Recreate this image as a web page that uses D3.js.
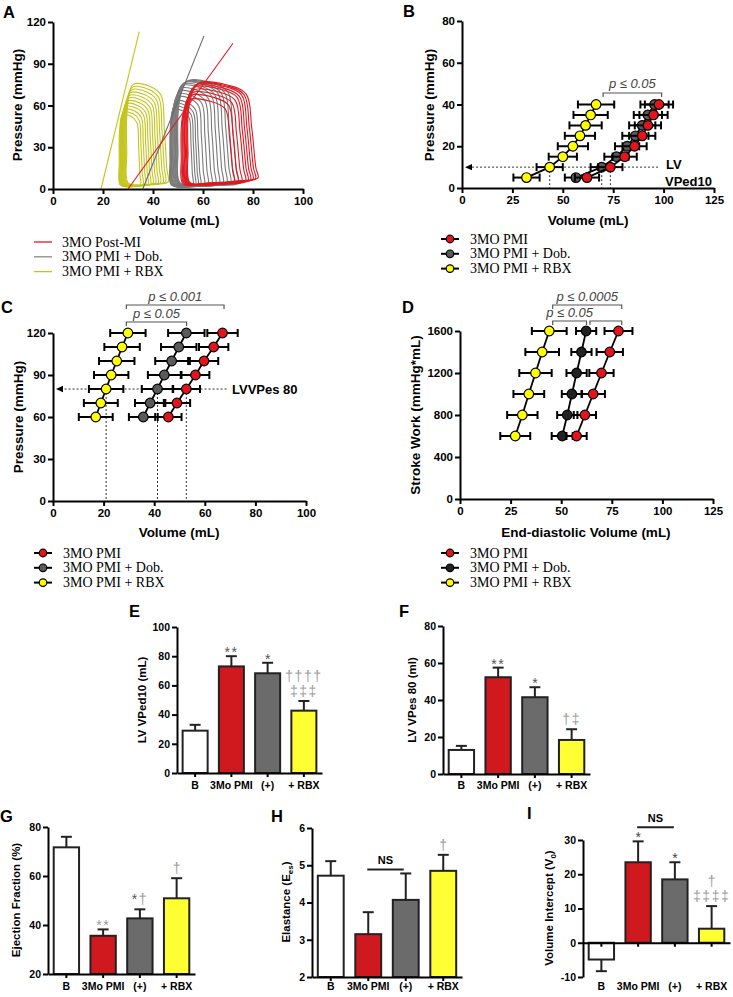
<!DOCTYPE html>
<html><head><meta charset="utf-8">
<script src="https://cdn.jsdelivr.net/npm/d3@7"></script>
<style>body{margin:0;background:#fff}</style>
</head><body><script>
// ================= DATA =================
// Panel A: PV loops (per loop: end-systolic volume, end-diastolic volume, peak pressure, end-diastolic pressure)
const pvSeries = ["3MO Post-MI", "3MO PMI + Dob.", "3MO PMI + RBX"];
const pmiLoopEsv  = [54.0, 53.7, 53.4, 53.0, 52.7, 52.4, 52.0, 51.7, 51.3];
const pmiLoopEdv  = [82.0, 81.0, 80.0, 79.0, 78.0, 77.0, 75.5, 74.0, 72.5];
const pmiLoopPtop = [76, 75.5, 75, 74, 73, 71, 69, 67, 64];
const pmiLoopEdp  = [8, 7.5, 7, 6.5, 6, 5.5, 5, 5, 4.5];
const dobLoopEsv  = [50, 49.8, 49.5, 49.2, 49, 48.7, 48.4, 48.1, 47.8, 47.6, 47.4, 47.2, 47, 46.8];
const dobLoopEdv  = [74, 72.5, 71, 69.5, 68, 66.5, 65, 63.5, 62, 60.5, 59, 58, 57, 56];
const dobLoopPtop = [77.5, 77, 76.5, 76, 75, 74, 72, 70, 68, 66, 63, 61, 59, 57];
const dobLoopEdp  = [4, 4, 4, 3.5, 3.5, 3.5, 3, 3, 3, 3, 2.5, 2.5, 2.5, 2.5];
const rbxLoopEsv  = [29.5, 29.2, 28.9, 28.6, 28.3, 28.0, 27.8, 27.5, 27.3, 27.0, 26.8, 26.5];
const rbxLoopEdv  = [46, 45, 44, 43, 42, 41, 40, 39, 38, 37, 36, 35];
const rbxLoopPtop = [75, 73, 71, 69, 67, 65, 63, 61, 59, 57, 55, 53];
const rbxLoopEdp  = [5, 5, 4.5, 4.5, 4, 4, 4, 3.5, 3.5, 3, 3, 3];
const espvrPmiV = [30, 72],    espvrPmiP = [0, 104.7];
const espvrDobV = [35.9, 60.4], espvrDobP = [0, 110];
const espvrRbxV = [19.2, 34.5], espvrRbxP = [0, 113];

// Panel B: EDPVR
const markerSeries = ["3MO PMI", "3MO PMI + Dob.", "3MO PMI + RBX"];
const edpvrP = [5, 10, 15, 20, 25, 30, 35, 40];
const edpvrPmiV   = [62, 73.6, 80.7, 85.6, 89.4, 92.2, 95, 97.7];
const edpvrPmiErr = [6, 6, 6, 6, 6.5, 6.5, 7, 7];
const edpvrDobV   = [56.5, 69.3, 76.6, 81.9, 86, 89.4, 92.2, 95.5];
const edpvrDobErr = [5.5, 5.5, 6, 6, 6.5, 6.5, 7, 7];
const edpvrRbxV   = [32, 43.5, 50, 55, 58.5, 61.3, 63.8, 66.5];
const edpvrRbxErr = [6.5, 6.5, 7, 7.5, 7.5, 8, 8.5, 9];

// Panel C: ESPVR
const espP = [60, 70, 80, 90, 100, 110, 120];
const espPmiV   = [45.6, 49, 52.7, 56.3, 59.7, 63.5, 67];
const espPmiErr = [5.2, 5.2, 5.4, 5.5, 5.6, 5.8, 6];
const espDobV   = [35.7, 38.4, 41.3, 44, 46.9, 49.7, 52.7];
const espDobErr = [5.7, 6, 6.2, 6.5, 6.5, 7, 7.2];
const espRbxV   = [16.9, 18.9, 21, 23, 25.2, 27.3, 29.6];
const espRbxErr = [6.7, 6.7, 6.8, 6.8, 7, 7, 7];

// Panel D: PRSW
const swLevels = [600, 800, 1000, 1200, 1400, 1600];
const swPmiV   = [57.6, 61.7, 65.8, 69.9, 74, 78.3];
const swPmiErr = [5, 5.5, 5.8, 6, 6.5, 6.9];
const swDobV   = [50.5, 53, 55.3, 57.6, 60, 62.3];
const swDobErr = [5.2, 5, 5, 5, 5, 5];
const swRbxV   = [27.3, 30.8, 34, 37.3, 40.6, 44.1];
const swRbxErr = [7.4, 7.5, 7.6, 8, 8.3, 8.6];

// Bar panels
const barCats = ["B", "3Mo PMI", "(+)", "+ RBX"];
const ved10 = [29, 73, 68.3, 42.7],  ved10Err = [4, 7, 7.2, 6.6];
const ved10Marks = [[], ["**"], ["*"], ["††††", "‡‡‡"]];
const ves80 = [13, 52.3, 41.5, 18.4], ves80Err = [2.2, 5.2, 5.4, 5.8];
const ves80Marks = [[], ["**"], ["*"], ["†‡"]];
const ef = [71.7, 35.6, 42.7, 50.9],  efErr = [4.3, 2.6, 3.7, 8.2];
const efMarks = [[], ["**"], ["*†"], ["†"]];
const ees = [4.72, 3.15, 4.07, 4.85], eesErr = [0.39, 0.59, 0.71, 0.43];
const eesMarks = [[], [], [], ["†"]];
const v0 = [-4.9, 23.5, 18.5, 4.1],  v0Err = [3.4, 6.1, 5, 6.6];
const v0Marks = [[], ["*"], ["*"], ["†", "‡‡‡‡"]];

// ================= DRAWING =================
const SANS = "'Liberation Sans', Arial, Helvetica, sans-serif";
const SERIF = "'Liberation Serif', 'Times New Roman', serif";
const svg = d3.select("body").append("svg").attr("width", 733).attr("height", 997)
  .style("font-family", SANS);

const C_RED = "#e3141b", C_GRAY = "#5a5a5a", C_BLACK = "#222", C_YEL = "#ffff00";
const fmt = d => String(d);

function panelLabel(t, x, y) {
  svg.append("text").attr("x", x).attr("y", y).attr("font-size", 16.5)
    .attr("font-weight", "bold").text(t);
}
function styleAxis(g, fs) {
  g.select(".domain").attr("stroke", "#000").attr("stroke-width", 2);
  g.selectAll(".tick line").attr("stroke", "#000").attr("stroke-width", 2);
  g.selectAll(".tick text").attr("font-size", fs).attr("font-weight", "bold")
    .attr("font-family", SANS).attr("fill", "#000");
}
function xyAxes(x, y, xt, yt, fs) {
  const gx = svg.append("g").attr("transform", `translate(0,${y.range()[0]})`)
    .call(d3.axisBottom(x).tickValues(xt).tickFormat(fmt).tickSize(5).tickSizeOuter(0).tickPadding(3));
  styleAxis(gx, fs);
  const gy = svg.append("g").attr("transform", `translate(${x.range()[0]},0)`)
    .call(d3.axisLeft(y).tickValues(yt).tickFormat(fmt).tickSize(5).tickSizeOuter(0).tickPadding(2));
  styleAxis(gy, fs);
}
function xTitle(t, x, y, fs) {
  svg.append("text").attr("x", x).attr("y", y).attr("text-anchor", "middle")
    .attr("font-size", fs).attr("font-weight", "bold").text(t);
}
function yTitle(x, y, fs) {
  return svg.append("text").attr("transform", `translate(${x},${y}) rotate(-90)`)
    .attr("text-anchor", "middle").attr("font-size", fs).attr("font-weight", "bold");
}

// ---------- Panel A ----------
{
  const x = d3.scaleLinear().domain([0, 100]).range([53, 303]);
  const y = d3.scaleLinear().domain([0, 120]).range([189, 22]);
  const line = d3.line().x(d => x(d[0])).y(d => y(d[1])).curve(d3.curveCatmullRomClosed.alpha(0.5));
  function loopPts(esv, edv, ptop, edp) {
    const w = edv - esv;
    return [
      [edv, edp], [edv - 0.03 * w, 0.2 * ptop], [edv - 0.09 * w, 0.58 * ptop],
      [edv - 0.17 * w, 0.9 * ptop], [esv + 0.55 * w, 0.985 * ptop], [esv + 0.15 * w, ptop],
      [esv + 0.02 * w, 0.8 * ptop], [esv, 0.35 * ptop], [esv + 0.03 * w, 0.06 * ptop],
      [esv + 0.3 * w, edp * 0.55], [edv - 0.25 * w, edp * 0.75]
    ];
  }
  const groups = [
    {esv: dobLoopEsv, edv: dobLoopEdv, p: dobLoopPtop, e: dobLoopEdp, c: "#7a7a7a"},
    {esv: rbxLoopEsv, edv: rbxLoopEdv, p: rbxLoopPtop, e: rbxLoopEdp, c: "#c3c51b"},
    {esv: pmiLoopEsv, edv: pmiLoopEdv, p: pmiLoopPtop, e: pmiLoopEdp, c: "#de1a22"}
  ];
  groups.forEach(g => {
    g.esv.forEach((v, i) => {
      svg.append("path").attr("d", line(loopPts(v, g.edv[i], g.p[i], g.e[i])))
        .attr("fill", "none").attr("stroke", g.c).attr("stroke-width", 1.1);
    });
  });
  const esp = [[espvrRbxV, espvrRbxP, "#c3c51b"], [espvrDobV, espvrDobP, "#6a6a6a"], [espvrPmiV, espvrPmiP, "#de1a22"]];
  esp.forEach(([vv, pp, c]) => {
    svg.append("line").attr("x1", x(vv[0])).attr("y1", y(pp[0])).attr("x2", x(vv[1])).attr("y2", y(pp[1]))
      .attr("stroke", c).attr("stroke-width", 1.1);
  });
  xyAxes(x, y, [0, 20, 40, 60, 80, 100], [0, 30, 60, 90, 120], 11.5);
  xTitle("Volume (mL)", 179, 225, 13.5);
  yTitle(22, 105, 13.5).text("Pressure (mmHg)");
  panelLabel("A", 3, 18);
  const lc = ["#de1a22", "#8a8a8a", "#c3c51b"];
  pvSeries.forEach((s, i) => {
    const yy = 242 + i * 14.8;
    svg.append("line").attr("x1", 34).attr("x2", 52).attr("y1", yy).attr("y2", yy)
      .attr("stroke", lc[i]).attr("stroke-width", 1.3);
    svg.append("text").attr("x", 62).attr("y", yy + 4.5).attr("font-family", SERIF)
      .attr("font-size", 14).text(s);
  });
}

// ---------- helpers for marker panels ----------
function markerSeriesDraw(x, y, vs, errs, ps, color) {
  const g = svg.append("g");
  vs.forEach((v, i) => {
    const yy = y(ps[i]);
    g.append("line").attr("x1", x(v - errs[i])).attr("x2", x(v + errs[i])).attr("y1", yy).attr("y2", yy)
      .attr("stroke", "#000").attr("stroke-width", 2);
    [v - errs[i], v + errs[i]].forEach(e => g.append("line").attr("x1", x(e)).attr("x2", x(e))
      .attr("y1", yy - 4).attr("y2", yy + 4).attr("stroke", "#000").attr("stroke-width", 2));
  });
  g.append("path").attr("d", d3.line().x(d => x(d[0])).y(d => y(d[1]))(vs.map((v, i) => [v, ps[i]])))
    .attr("fill", "none").attr("stroke", "#000").attr("stroke-width", 1.8);
  vs.forEach((v, i) => g.append("circle").attr("cx", x(v)).attr("cy", y(ps[i])).attr("r", 4.8)
    .attr("fill", color).attr("stroke", "#000").attr("stroke-width", 1.2));
}
function markerLegend(x0, y0, colors) {
  markerSeries.forEach((s, i) => {
    const yy = y0 + i * 14.8;
    svg.append("line").attr("x1", x0 - 9).attr("x2", x0 + 9).attr("y1", yy).attr("y2", yy)
      .attr("stroke", "#000").attr("stroke-width", 2);
    svg.append("circle").attr("cx", x0).attr("cy", yy).attr("r", 3.8).attr("fill", colors[i])
      .attr("stroke", "#000").attr("stroke-width", 1.2);
    svg.append("text").attr("x", x0 + 20).attr("y", yy + 4.5).attr("font-family", SERIF)
      .attr("font-size", 14).text(s);
  });
}
function bracket(x1, x2, yTop, label, ty) {
  svg.append("path").attr("d", `M${x1},${yTop + 4}V${yTop}H${x2}V${yTop + 4}`)
    .attr("fill", "none").attr("stroke", "#555").attr("stroke-width", 1.2);
  if (label) svg.append("text").attr("x", (x1 + x2) / 2).attr("y", ty).attr("text-anchor", "middle")
    .attr("font-size", 13).attr("font-style", "italic").attr("fill", "#444").text(label);
}
function dashed(x1, y1, x2, y2) {
  svg.append("line").attr("x1", x1).attr("y1", y1).attr("x2", x2).attr("y2", y2)
    .attr("stroke", "#333").attr("stroke-width", 1).attr("stroke-dasharray", "2,2");
}
function arrowHead(xTip, yy) {
  svg.append("path").attr("d", `M${xTip},${yy}L${xTip + 7},${yy - 3.2}L${xTip + 7},${yy + 3.2}Z`).attr("fill", "#000");
}

// ---------- Panel B ----------
{
  const x = d3.scaleLinear().domain([0, 125]).range([462, 714]);
  const y = d3.scaleLinear().domain([0, 80]).range([188, 21]);
  const i10 = edpvrP.indexOf(10);
  dashed(x(3), y(10), x(98), y(10));
  arrowHead(x(0) + 3, y(10));
  [edpvrRbxV[i10], edpvrDobV[i10], edpvrPmiV[i10]].forEach(v => dashed(x(v), y(10), x(v), y(0)));
  markerSeriesDraw(x, y, edpvrRbxV, edpvrRbxErr, edpvrP, C_YEL);
  markerSeriesDraw(x, y, edpvrDobV, edpvrDobErr, edpvrP, C_GRAY);
  markerSeriesDraw(x, y, edpvrPmiV, edpvrPmiErr, edpvrP, C_RED);
  xyAxes(x, y, [0, 25, 50, 75, 100, 125], [0, 20, 40, 60, 80], 11.5);
  xTitle("Volume (mL)", 588, 225, 13.5);
  yTitle(434, 105, 13.5).text("Pressure (mmHg)");
  svg.append("text").attr("x", 666).attr("y", 169).attr("font-size", 13).attr("font-weight", "bold").text("LV");
  svg.append("text").attr("x", 665).attr("y", 186).attr("font-size", 13).attr("font-weight", "bold").text("VPed10");
  bracket(x(70), x(99), 93, "p ≤ 0.05", 88);
  panelLabel("B", 403, 17);
  markerLegend(450, 239, [C_RED, C_GRAY, C_YEL]);
}

// ---------- Panel C ----------
{
  const x = d3.scaleLinear().domain([0, 100]).range([53, 306]);
  const y = d3.scaleLinear().domain([0, 120]).range([501, 333]);
  const i80 = espP.indexOf(80);
  dashed(x(3), y(80), x(69), y(80));
  arrowHead(x(0) + 3, y(80));
  [espRbxV[i80], espDobV[i80], espPmiV[i80]].forEach(v => dashed(x(v), y(80), x(v), y(0)));
  markerSeriesDraw(x, y, espRbxV, espRbxErr, espP, C_YEL);
  markerSeriesDraw(x, y, espDobV, espDobErr, espP, C_GRAY);
  markerSeriesDraw(x, y, espPmiV, espPmiErr, espP, C_RED);
  xyAxes(x, y, [0, 20, 40, 60, 80, 100], [0, 30, 60, 90, 120], 11.5);
  xTitle("Volume (mL)", 179, 537, 13.5);
  yTitle(23, 417, 13.5).text("Pressure (mmHg)");
  svg.append("text").attr("x", 232).attr("y", 394).attr("font-size", 13).attr("font-weight", "bold").text("LVVPes 80");
  bracket(x(29), x(67.6), 305, "p ≤ 0.001", 301);
  bracket(x(29), x(52.8), 322, "p ≤ 0.05", 318);
  panelLabel("C", 1, 313);
  markerLegend(43, 553, [C_RED, C_GRAY, C_YEL]);
}

// ---------- Panel D ----------
{
  const x = d3.scaleLinear().domain([0, 125]).range([460, 713]);
  const y = d3.scaleLinear().domain([0, 1600]).range([499, 331]);
  markerSeriesDraw(x, y, swRbxV, swRbxErr, swLevels, C_YEL);
  markerSeriesDraw(x, y, swDobV, swDobErr, swLevels, C_BLACK);
  markerSeriesDraw(x, y, swPmiV, swPmiErr, swLevels, C_RED);
  xyAxes(x, y, [0, 25, 50, 75, 100, 125], [0, 400, 800, 1200, 1600], 11.5);
  xTitle("End-diastolic Volume (mL)", 586, 537, 13.5);
  yTitle(420, 415, 13.5).text("Stroke Work (mmHg*mL)");
  bracket(x(45.8), x(79.9), 305, "p ≤ 0.0005", 301);
  bracket(x(45.8), x(62.5), 321, "p ≤ 0.05", 317);
  bracket(x(64.2), x(79.9), 321, null, 0);
  panelLabel("D", 402, 313);
  markerLegend(450, 553, [C_RED, C_BLACK, C_YEL]);
}

// ---------- Bar panels ----------
const barColors = ["#ffffff", "#d0191f", "#6b6b6b", "#ffff33"];
function barPanel(o) {
  const x = d3.scaleBand().domain(barCats).range([o.x0, o.x1]).paddingInner(0.31).paddingOuter(0.155);
  const y = d3.scaleLinear().domain(o.ydom).range([o.yb, o.yt]);
  const base = y(Math.max(o.ydom[0], 0));
  const bw = x.bandwidth();
  o.vals.forEach((v, i) => {
    const cx = x(barCats[i]) + bw / 2;
    const top = v >= 0 ? v + o.errs[i] : v - o.errs[i];
    svg.append("line").attr("x1", cx).attr("x2", cx).attr("y1", y(v)).attr("y2", y(top))
      .attr("stroke", "#222").attr("stroke-width", 2);
    svg.append("line").attr("x1", cx - 5.5).attr("x2", cx + 5.5).attr("y1", y(top)).attr("y2", y(top))
      .attr("stroke", "#222").attr("stroke-width", 2);
    svg.append("rect").attr("x", x(barCats[i])).attr("width", bw)
      .attr("y", Math.min(y(v), base)).attr("height", Math.abs(base - y(v)))
      .attr("fill", barColors[i]).attr("stroke", "#222").attr("stroke-width", 2);
    // significance marks
    const lines = o.marks[i];
    const yb = y(top);
    const sc = (o.lightStars || []).includes(i) ? "#9a9a9a" : o.starColor;
    for (let k = lines.length - 1; k >= 0; k--) {
      const s = lines[k];
      const onlyStar = /^\*+$/.test(s);
      const by = (k === lines.length - 1) ? (onlyStar ? yb + 1 : yb - 5) : yb - 5 - 15 * (lines.length - 1 - k);
      const t = svg.append("text").attr("x", cx).attr("y", by).attr("text-anchor", "middle")
        .attr("font-size", 14).attr("letter-spacing", s.length > 1 ? 1.5 : 0);
      [...s].forEach(ch => t.append("tspan").attr("fill", ch === "*" ? sc : "#9a9a9a").text(ch));
    }
  });
  // axes
  const gx = svg.append("g").attr("transform", `translate(0,${base})`)
    .call(d3.axisBottom(x).tickSize(4).tickSizeOuter(0).tickFormat(""));
  styleAxis(gx, 10.5);
  barCats.forEach(c => svg.append("text").attr("x", x(c) + bw / 2).attr("y", o.labelY)
    .attr("text-anchor", "middle").attr("font-size", 10.5).attr("font-weight", "bold").text(c));
  const gy = svg.append("g").attr("transform", `translate(${o.x0},0)`)
    .call(d3.axisLeft(y).tickValues(o.yticks).tickFormat(fmt).tickSize(5).tickSizeOuter(0).tickPadding(2));
  styleAxis(gy, 10.5);
  return {x, y};
}

// E
barPanel({x0: 177, x1: 322, yb: 773, yt: 627, ydom: [0, 100], yticks: [0, 20, 40, 60, 80, 100],
  vals: ved10, errs: ved10Err, marks: ved10Marks, starColor: "#555", labelY: 789});
yTitle(146, 700, 11.5).text("LV VPed10 (mL)");
panelLabel("E", 129, 617);

// F
barPanel({x0: 443, x1: 590, yb: 774, yt: 626, ydom: [0, 80], yticks: [0, 20, 40, 60, 80],
  vals: ves80, errs: ves80Err, marks: ves80Marks, starColor: "#555", labelY: 789});
yTitle(416, 700, 11.5).text("LV VPes 80 (ml)");
panelLabel("F", 399, 617);

// G
barPanel({x0: 48, x1: 195, yb: 974, yt: 827, ydom: [20, 80], yticks: [20, 40, 60, 80],
  vals: ef, errs: efErr, marks: efMarks, starColor: "#555", lightStars: [1], labelY: 990});
yTitle(20, 900, 11.5).text("Ejection Fraction (%)");
panelLabel("G", 0, 822);

// H
{
  const s = barPanel({x0: 312, x1: 462, yb: 977, yt: 828, ydom: [2, 6], yticks: [2, 3, 4, 5, 6],
    vals: ees, errs: eesErr, marks: eesMarks, starColor: "#555", labelY: 990});
  const t = yTitle(290, 902, 11.5);
  t.append("tspan").text("Elastance (E");
  t.append("tspan").attr("font-size", 8).attr("dy", 3).text("es");
  t.append("tspan").attr("dy", -3).text(")");
  const xa = s.x(barCats[1]) + s.x.bandwidth() / 2 - 1, xb = s.x(barCats[2]) + s.x.bandwidth() / 2 - 2;
  const ly = s.y(ees[2] + eesErr[2]) - 4;
  svg.append("line").attr("x1", xa).attr("x2", xb).attr("y1", ly).attr("y2", ly).attr("stroke", "#222").attr("stroke-width", 2);
  svg.append("text").attr("x", (xa + xb) / 2).attr("y", ly - 5).attr("text-anchor", "middle")
    .attr("font-size", 11).attr("font-weight", "bold").text("NS");
  panelLabel("H", 271, 822);
}

// I
{
  const s = barPanel({x0: 583, x1: 730, yb: 977, yt: 840, ydom: [-10, 30], yticks: [-10, 0, 10, 20, 30],
    vals: v0, errs: v0Err, marks: v0Marks, starColor: "#444", labelY: 990});
  const t = yTitle(553, 908, 11.5);
  t.append("tspan").text("Volume Intercept (V");
  t.append("tspan").attr("font-size", 8).attr("dy", 3).text("0");
  t.append("tspan").attr("dy", -3).text(")");
  const xa = s.x(barCats[1]) + s.x.bandwidth() / 2 - 1, xb = s.x(barCats[2]) + s.x.bandwidth() / 2 - 1;
  const ly = s.y(v0[1] + v0Err[1]) - 14;
  svg.append("line").attr("x1", xa).attr("x2", xb).attr("y1", ly).attr("y2", ly).attr("stroke", "#222").attr("stroke-width", 2);
  svg.append("text").attr("x", (xa + xb) / 2).attr("y", ly - 5).attr("text-anchor", "middle")
    .attr("font-size", 11).attr("font-weight", "bold").text("NS");
  panelLabel("I", 527, 819);
}
</script></body></html>
